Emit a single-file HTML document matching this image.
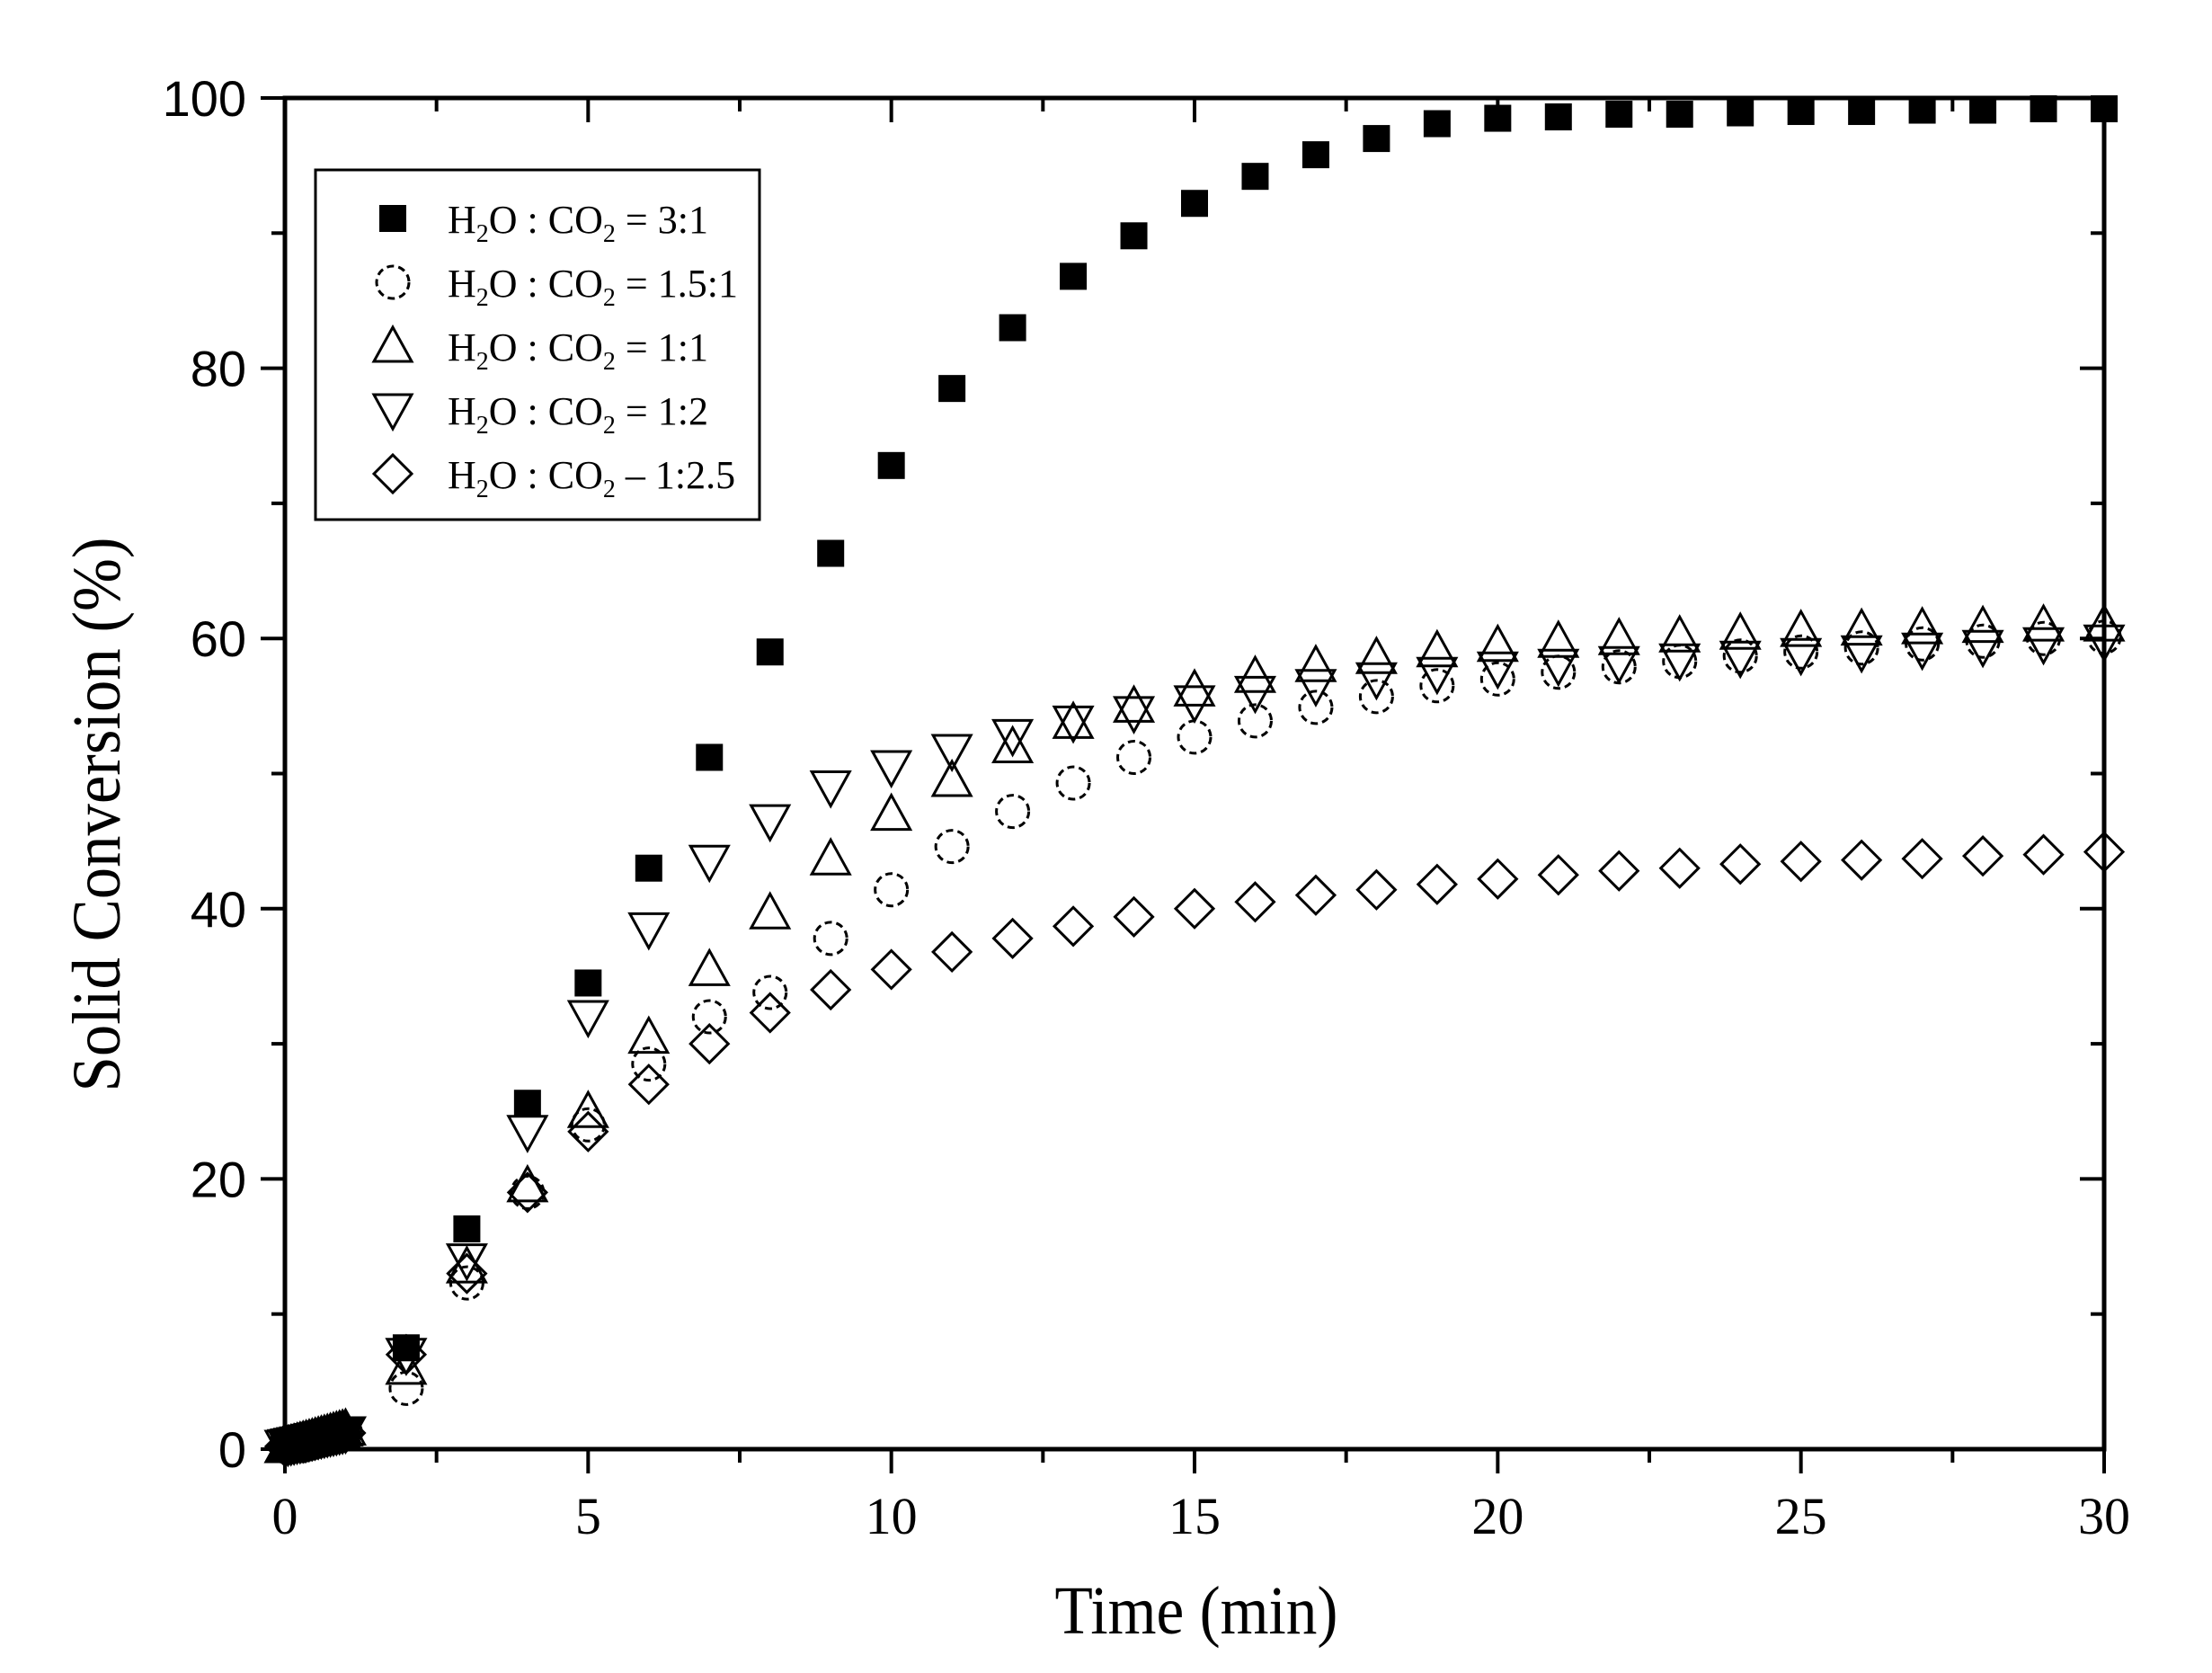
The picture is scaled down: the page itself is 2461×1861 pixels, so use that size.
<!DOCTYPE html>
<html><head><meta charset="utf-8"><style>
html,body{margin:0;padding:0;background:#fff;}
svg{display:block;}
text{font-family:"Liberation Serif",serif;fill:#000;}
</style></head><body>
<svg id="s" width="2461" height="1861" viewBox="0 0 2461 1861" xmlns="http://www.w3.org/2000/svg">
<rect width="2461" height="1861" fill="#fff"/>
<g id="data"></g>
<rect x="317" y="109" width="2024" height="1503" fill="none" stroke="#000" stroke-width="5"/>
<g id="ticks" stroke="#000" stroke-width="4"></g>
<g id="labels" font-size="58"></g>
<text x="1331" y="1817" font-size="76" text-anchor="middle" textLength="315" lengthAdjust="spacingAndGlyphs">Time (min)</text>
<text transform="translate(133,906) rotate(-90)" font-size="76" text-anchor="middle" textLength="617" lengthAdjust="spacingAndGlyphs">Solid Conversion (%)</text>
<rect x="351" y="189" width="494" height="389" fill="#fff" stroke="#000" stroke-width="3"/>
<g id="legend" font-size="44"></g>
</svg>
<script>
var NS="http://www.w3.org/2000/svg";
var L=317,R=2341,T=109,B=1612;
function X(t){return L+(R-L)*t/30;}
function Y(v){return B-(B-T)*v/100;}
function el(p,n,a,txt){var e=document.createElementNS(NS,n);for(var k in a)e.setAttribute(k,a[k]);if(txt!==undefined)e.textContent=txt;p.appendChild(e);return e;}
var ticks=document.getElementById('ticks'),labels=document.getElementById('labels');
for(var t=0;t<=30;t+=2.5){var maj=(t%5==0),len=maj?27:15,x=X(t);
 el(ticks,'line',{x1:x,y1:B,x2:x,y2:B+len});el(ticks,'line',{x1:x,y1:T,x2:x,y2:T+len});
 if(maj)el(labels,'text',{x:x,y:1706,'text-anchor':'middle'},String(t));}
for(var v=0;v<=100;v+=10){var maj=(v%20==0),len=maj?27:15,y=Y(v);
 el(ticks,'line',{x1:L,y1:y,x2:L-len,y2:y});el(ticks,'line',{x1:R,y1:y,x2:R-len,y2:y});
 if(maj)el(labels,'text',{x:274,y:y+20,'text-anchor':'end',style:'font-family:"Liberation Sans",sans-serif','font-size':56},String(v));}
var data=document.getElementById('data');
function mk(g,type,x,y,s){
 var st={fill:'none',stroke:'#000','stroke-width':3};
 if(type=='sq'){el(g,'rect',{x:x-15,y:y-15,width:30,height:30,fill:'#000'});}
 else if(type=='ci'){st.r=18;st.cx=x;st.cy=y;st['stroke-dasharray']='8 5';el(g,'circle',st);}
 else if(type=='up'){st.points=(x-21)+','+(y+17)+' '+(x+21)+','+(y+17)+' '+x+','+(y-21);el(g,'polygon',st);}
 else if(type=='dn'){st.points=(x-21)+','+(y-17)+' '+(x+21)+','+(y-17)+' '+x+','+(y+21);el(g,'polygon',st);}
 else if(type=='di'){st.points=(x-21)+','+y+' '+x+','+(y-21)+' '+(x+21)+','+y+' '+x+','+(y+21);el(g,'polygon',st);}
}
var S={
sq:[7.5,16.3,25.6,34.5,43,51.2,59,66.3,72.8,78.5,83,86.8,89.8,92.2,94.2,95.8,97,98.1,98.5,98.6,98.8,98.8,98.9,99,99,99.1,99.1,99.2,99.2],
ci:[4.5,12.3,19,24,28.5,32,33.8,37.8,41.4,44.6,47.2,49.3,51.2,52.7,53.9,54.9,55.7,56.5,57,57.5,57.9,58.3,58.7,59,59.3,59.6,59.8,60,60.1],
up:[6,13.5,19.5,25,30.5,35.5,39.7,43.7,47,49.5,52,53.8,55,56.2,57.2,58,58.6,59.1,59.5,59.8,60,60.2,60.4,60.6,60.7,60.8,60.9,61,61],
dn:[7,14,23.5,32,38.5,43.5,46.5,49,50.5,51.7,52.8,53.8,54.5,55.3,56,56.5,57,57.4,57.8,58,58.2,58.4,58.6,58.8,59,59.2,59.4,59.6,59.8],
di:[7,13,19,23.5,27,30,32.3,34,35.5,36.8,37.8,38.7,39.4,40,40.5,41,41.4,41.8,42.2,42.5,42.8,43,43.3,43.5,43.6,43.7,43.9,44,44.2]};
['di','dn','up','ci','sq'].forEach(function(k){
 var g=el(data,'g',{});
 for(var t=0;t<=1.0001;t+=0.05){var v=(k=='sq')?0.3+t*0.9:(k=='up'?0.2+t*1.3:0.2+t*1.0);mk(g,k,X(t),Y(v));}
 S[k].forEach(function(v,i){mk(g,k,X(i+2),Y(v));});
});
var lg=document.getElementById('legend');
var rows=[['sq','= 3:1'],['ci','= 1.5:1'],['up','= 1:1'],['dn','= 1:2'],['di','\u2013 1:2.5']];
rows.forEach(function(r,i){var y=243+i*71;mk(lg,r[0],437,y);
 var tx=el(lg,'text',{x:498,y:y+16});
 tx.innerHTML='H<tspan font-size="28" dy="10">2</tspan><tspan dy="-10">O : CO</tspan><tspan font-size="28" dy="10">2</tspan><tspan dy="-10"> '+r[1]+'</tspan>';});
</script>
</body></html>
